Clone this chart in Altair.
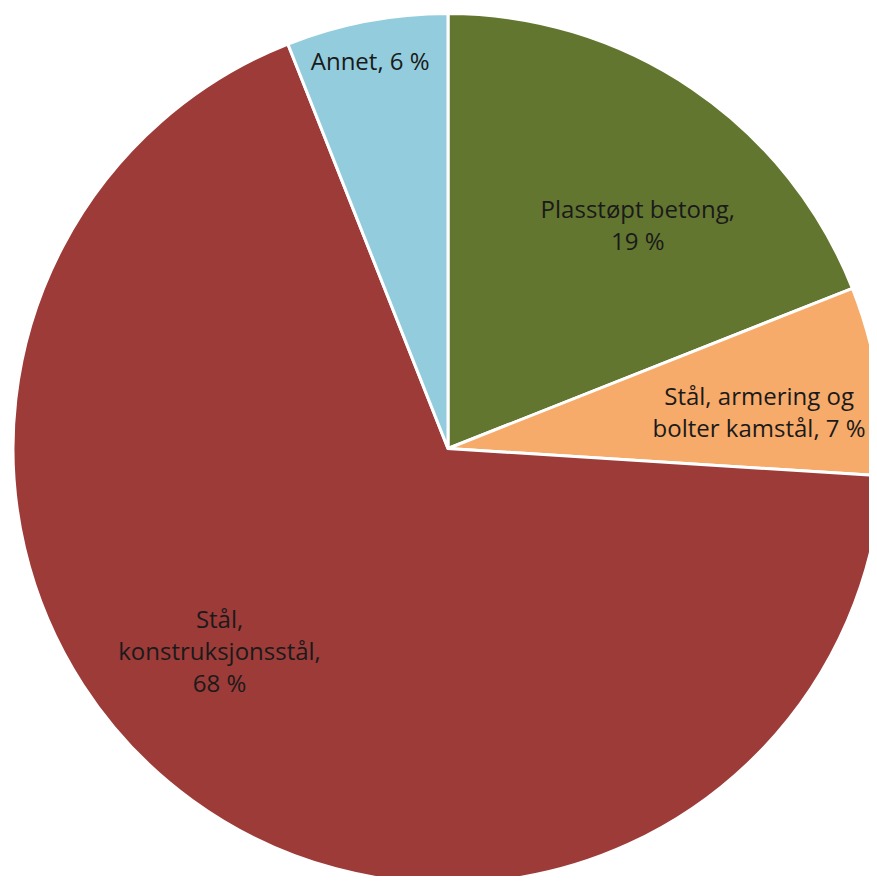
import altair as alt
import pandas as pd

categories = ["Plasstøpt betong", "Stål, armering og bolter kamstål", "Stål, konstruksjonsstål", "Annet"]
values = [19, 7, 68, 6]
labels = [
    "Plasstøpt betong,\n19 %",
    "Stål, armering og\nbolter kamstål, 7 %",
    "Stål,\nkonstruksjonsstål,\n68 %",
    "Annet, 6 %",
]
colors = ["#637630", "#F7AB6B", "#9D3B39", "#93CDDD"]

df = pd.DataFrame({
    "category": categories,
    "value": values,
    "label": labels,
    "order": list(range(len(categories))),
})

CX, CY, R = 440, 440.5, 435
theta_scale = alt.Scale(domain=[0, 100], range=[0, 6.283185307179586])

base = alt.Chart(df).transform_window(
    cum="sum(value)", sort=[alt.SortField("order")]
).transform_calculate(
    start="datum.cum - datum.value", mid="datum.cum - datum.value/2"
)

pie = base.mark_arc(outerRadius=R, stroke="white", strokeWidth=3).encode(
    theta=alt.Theta("start:Q", scale=theta_scale),
    theta2="cum:Q",
    color=alt.Color("category:N", scale=alt.Scale(domain=categories, range=colors), legend=None),
    x=alt.value(CX),
    y=alt.value(CY),
)

# label placement: (radius, dx, dy) per category
placement = {
    "Plasstøpt betong": (270, 38, -14),
    "Stål, armering og bolter kamstål": (315, 0, -1),
    "Stål, konstruksjonsstål": (290, -58, -62),
    "Annet": (394, -4, 2),
}

layers = [pie]
for cat in categories:
    r, dx, dy = placement[cat]
    t = base.transform_filter(alt.datum.category == cat).mark_text(
        radius=r, dx=dx, dy=dy, font="Open Sans", fontSize=24, color="#1a1a1a",
        align="center", baseline="middle", lineBreak="\n", lineHeight=32,
    ).encode(
        theta=alt.Theta("mid:Q", scale=theta_scale),
        text="label:N",
        x=alt.value(CX),
        y=alt.value(CY),
    )
    layers.append(t)

chart = alt.layer(*layers).properties(
    width=861, height=868, padding=0,
    autosize=alt.AutoSizeParams(type="none"),
).configure_view(stroke=None)

chart.save("out.html", embed_options={"renderer": "svg", "actions": False})
